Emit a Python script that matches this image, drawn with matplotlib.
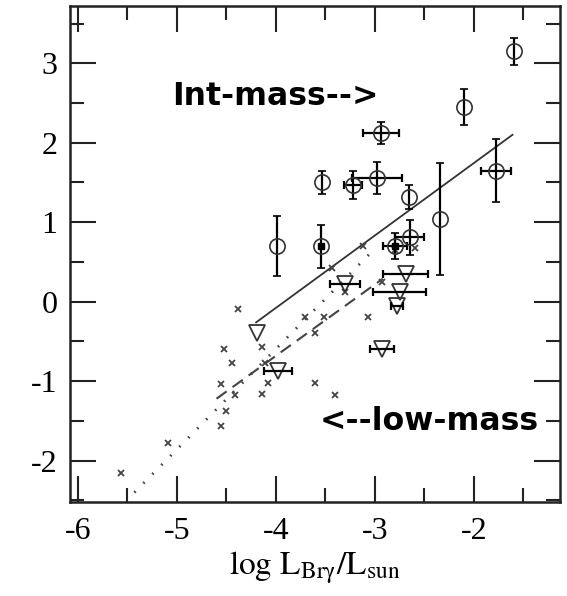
import matplotlib
matplotlib.use("Agg")
import matplotlib.pyplot as plt
import numpy as np

# open circles with error bars (intermediate-mass sources)
circ_x = [-1.59, -2.10, -2.94, -1.78, -3.53, -3.22, -2.98, -2.66, -2.34, -2.65, -2.80, -3.99, -3.54]
circ_y = [3.15, 2.45, 2.12, 1.65, 1.50, 1.47, 1.56, 1.32, 1.04, 0.81, 0.70, 0.70, 0.70]
circ_xerr = [0.0, 0.0, 0.18, 0.15, 0.0, 0.09, 0.25, 0.0, 0.0, 0.15, 0.12, 0.0, 0.0]
circ_yerr = [0.17, 0.23, 0.14, 0.40, 0.15, 0.18, 0.20, 0.15, 0.70, 0.22, 0.16, 0.38, 0.27]
filled_x = [-2.80, -3.54]
filled_y = [0.70, 0.70]

# open triangles (upper limits) with horizontal bars
tri_x = [-4.19, -3.98, -3.30, -2.69, -2.75, -2.78, -2.93]
tri_y = [-0.39, -0.87, 0.22, 0.35, 0.12, -0.05, -0.59]
tri_xerr = [0.0, 0.14, 0.15, 0.23, 0.27, 0.06, 0.12]

# small crosses (low-mass sources)
cross_x = [-5.56, -5.09, -4.55, -4.50, -4.41, -4.55, -4.14, -4.08, -3.61, -3.40,
           -4.44, -4.11, -4.52, -4.14, -4.38, -3.71, -3.61, -3.51, -3.07, -3.30,
           -2.93, -3.43, -3.12, -2.60, -2.80]
cross_y = [-2.15, -1.78, -1.57, -1.38, -1.17, -1.04, -1.16, -1.02, -1.02, -1.17,
           -0.77, -0.77, -0.60, -0.57, -0.09, -0.19, -0.39, -0.19, -0.19, 0.12,
           0.25, 0.43, 0.70, 0.68, 0.65]

# fitted relations
solid_x = [-4.20, -1.61]
solid_y = [-0.26, 2.10]
dotted_x = [-5.43, -3.03]
dotted_y = [-2.40, 0.63]
dashed_x = [-4.60, -2.92]
dashed_y = [-1.22, 0.29]

plt.rcParams["mathtext.fontset"] = "stix"
plt.rcParams["axes.unicode_minus"] = False

fig = plt.figure(figsize=(5.67, 5.96), dpi=100)
ax = fig.add_axes([0.1235, 0.1577, 0.8642, 0.8322])

ax.plot(solid_x, solid_y, "-", color="#333333", lw=1.3)
ax.plot(dotted_x, dotted_y, color="#444444", lw=2.0, dashes=(0.6, 4))
ax.plot(dashed_x, dashed_y, color="#444444", lw=1.5, dashes=(6, 3.5))

ax.plot(cross_x, cross_y, "x", color="#444444", ms=5, mew=1.3)

# circles
ax.errorbar(circ_x, circ_y, yerr=circ_yerr, fmt="o", mfc="none", mec="#333333",
            mew=1.2, ms=11, ecolor="k", elinewidth=1.6, capsize=3, capthick=1.6)
cx = [x for x, e in zip(circ_x, circ_xerr) if e > 0]
cy = [y for y, e in zip(circ_y, circ_xerr) if e > 0]
ce = [e for e in circ_xerr if e > 0]
ax.errorbar(cx, cy, xerr=ce, fmt="none", ecolor="k", elinewidth=1.6, capsize=3, capthick=1.6)
ax.plot(filled_x, filled_y, "s", color="k", ms=4)

# triangles
ax.plot(tri_x, tri_y, "v", mfc="none", mec="#333333", mew=1.3, ms=11)
tx = [x for x, e in zip(tri_x, tri_xerr) if e > 0]
ty = [y for y, e in zip(tri_y, tri_xerr) if e > 0]
te = [e for e in tri_xerr if e > 0]
ax.errorbar(tx, ty, xerr=te, fmt="none", ecolor="k", elinewidth=1.6, capsize=3, capthick=1.6)

ax.text(-5.05, 2.48, "Int-mass-->", fontsize=22.7, fontweight="bold",
        family="DejaVu Sans", ha="left", va="baseline")
ax.text(-3.56, -1.62, "<--low-mass", fontsize=22.7, fontweight="bold",
        family="DejaVu Sans", ha="left", va="baseline")

ax.set_xlim(-6.08, -1.13)
ax.set_ylim(-2.52, 3.72)
ax.set_xticks([-6, -5, -4, -3, -2])
ax.set_xticks(np.arange(-6, -1, 0.5), minor=True)
ax.set_yticks([-2, -1, 0, 1, 2, 3])
ax.set_yticks(np.arange(-2.5, 3.75, 0.5), minor=True)

for s in ax.spines.values():
    s.set_linewidth(1.8)
    s.set_color("#222222")

ax.tick_params(which="both", direction="in", top=True, right=True, color="#222222")
ax.tick_params(which="major", length=19, width=1.5)
ax.tick_params(which="minor", length=10, width=1.5)
ax.tick_params(axis="x", which="major", pad=11)
ax.tick_params(axis="y", which="major", pad=9)
for lab in ax.get_xticklabels() + ax.get_yticklabels():
    lab.set_family("Liberation Serif")
    lab.set_fontsize(23)

ax.set_xlabel(r"$\mathrm{log\ L_{Br\gamma}/L_{sun}}$", fontsize=24, labelpad=2)

fig.savefig("out.png", dpi=100)
